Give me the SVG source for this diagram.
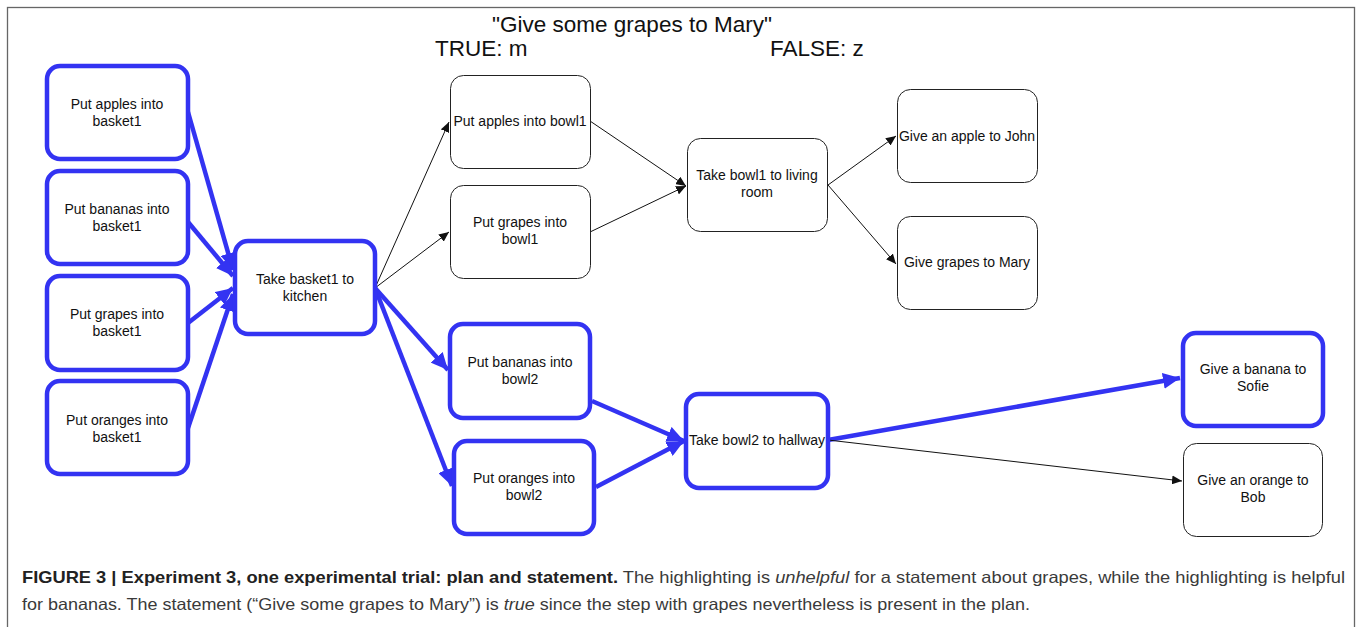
<svg xmlns="http://www.w3.org/2000/svg" width="1360" height="627" viewBox="0 0 1360 627">
<style>
.hb{fill:#fff;stroke:#3333f2;stroke-width:4.5}
.nb{fill:#fff;stroke:#222;stroke-width:1}
.lbl{font-family:"Liberation Sans",Arial,sans-serif;font-size:14px;fill:#111;text-anchor:middle}
.hl{stroke:#3333f2;stroke-width:4.5;fill:none}
.nl{stroke:#111;stroke-width:1;fill:none}
.big{font-family:"Liberation Sans",Arial,sans-serif;font-size:22.5px;fill:#111}
.cap{font-family:"Liberation Sans",Arial,sans-serif;font-size:16.5px;fill:#3a3a3a}
</style>
<defs>
<marker id="ab" markerUnits="userSpaceOnUse" markerWidth="18" markerHeight="16" refX="17" refY="8" orient="auto" viewBox="0 0 18 16"><path d="M0,0 L17,8 L0,16 z" fill="#3333f2"/></marker>
<marker id="an" markerUnits="userSpaceOnUse" markerWidth="11" markerHeight="9" refX="10" refY="4.5" orient="auto" viewBox="0 0 11 9"><path d="M0,0 L10,4.5 L0,9 z" fill="#111"/></marker>
</defs>
<rect x="0" y="0" width="1360" height="627" fill="#fff"/>
<rect x="7.5" y="7.5" width="1347" height="640" fill="none" stroke="#666" stroke-width="1.3"/>

<g id="title">
<text class="big" x="632" y="32" text-anchor="middle">"Give some grapes to Mary"</text>
<text class="big" x="435" y="56">TRUE: m</text>
<text class="big" x="770" y="56">FALSE: z</text>
</g>

<g id="connectors">
<line class="hl" x1="188" y1="112" x2="233" y2="270" marker-end="url(#ab)"/>
<line class="hl" x1="188" y1="222" x2="233" y2="276" marker-end="url(#ab)"/>
<line class="hl" x1="188" y1="323" x2="233" y2="288" marker-end="url(#ab)"/>
<line class="hl" x1="188" y1="428" x2="233" y2="294" marker-end="url(#ab)"/>
<line class="nl" x1="375" y1="288" x2="449" y2="122" marker-end="url(#an)"/>
<line class="nl" x1="375" y1="288" x2="449" y2="232" marker-end="url(#an)"/>
<line class="hl" x1="375" y1="288" x2="448" y2="370" marker-end="url(#ab)"/>
<line class="hl" x1="375" y1="288" x2="452" y2="486" marker-end="url(#ab)"/>
<line class="nl" x1="590" y1="121" x2="686" y2="186" marker-end="url(#an)"/>
<line class="nl" x1="590" y1="232" x2="686" y2="186" marker-end="url(#an)"/>
<line class="nl" x1="828" y1="185" x2="896" y2="136" marker-end="url(#an)"/>
<line class="nl" x1="828" y1="185" x2="896" y2="264" marker-end="url(#an)"/>
<line class="hl" x1="592" y1="401" x2="684" y2="441" marker-end="url(#ab)"/>
<line class="hl" x1="596" y1="487" x2="684" y2="441" marker-end="url(#ab)"/>
<line class="hl" x1="828" y1="440" x2="1180" y2="378" marker-end="url(#ab)"/>
<line class="nl" x1="828" y1="440" x2="1182" y2="481" marker-end="url(#an)"/>
</g>

<g id="n-apples-basket1"><rect class="hb" x="47" y="66" width="141" height="93" rx="13"/><text class="lbl" x="117" y="109">Put apples into</text><text class="lbl" x="117" y="126">basket1</text></g>
<g id="n-bananas-basket1"><rect class="hb" x="47" y="171" width="141" height="93" rx="13"/><text class="lbl" x="117" y="214">Put bananas into</text><text class="lbl" x="117" y="231">basket1</text></g>
<g id="n-grapes-basket1"><rect class="hb" x="47" y="276" width="141" height="94" rx="13"/><text class="lbl" x="117" y="319">Put grapes into</text><text class="lbl" x="117" y="336">basket1</text></g>
<g id="n-oranges-basket1"><rect class="hb" x="47" y="381" width="141" height="93" rx="13"/><text class="lbl" x="117" y="425">Put oranges into</text><text class="lbl" x="117" y="442">basket1</text></g>
<g id="n-kitchen"><rect class="hb" x="235" y="241" width="140" height="93" rx="13"/><text class="lbl" x="305" y="284">Take basket1 to</text><text class="lbl" x="305" y="301">kitchen</text></g>

<g id="n-apples-bowl1"><rect class="nb" x="450.5" y="75.5" width="140" height="93" rx="13"/><text class="lbl" x="520" y="126">Put apples into bowl1</text></g>
<g id="n-grapes-bowl1"><rect class="nb" x="450.5" y="185.5" width="140" height="93" rx="13"/><text class="lbl" x="520" y="227">Put grapes into</text><text class="lbl" x="520" y="244">bowl1</text></g>
<g id="n-bananas-bowl2"><rect class="hb" x="450" y="324" width="140" height="94" rx="13"/><text class="lbl" x="520" y="367">Put bananas into</text><text class="lbl" x="520" y="384">bowl2</text></g>
<g id="n-oranges-bowl2"><rect class="hb" x="454" y="441" width="140" height="93" rx="13"/><text class="lbl" x="524" y="483">Put oranges into</text><text class="lbl" x="524" y="500">bowl2</text></g>

<g id="n-living-room"><rect class="nb" x="687.5" y="138.5" width="140" height="93" rx="13"/><text class="lbl" x="757" y="180">Take bowl1 to living</text><text class="lbl" x="757" y="197">room</text></g>
<g id="n-hallway"><rect class="hb" x="686" y="394" width="142" height="94" rx="13"/><text class="lbl" x="757" y="445">Take bowl2 to hallway</text></g>

<g id="n-john"><rect class="nb" x="897.5" y="89.5" width="140" height="93" rx="13"/><text class="lbl" x="967" y="141">Give an apple to John</text></g>
<g id="n-mary"><rect class="nb" x="897.5" y="216.5" width="140" height="93" rx="13"/><text class="lbl" x="967" y="267">Give grapes to Mary</text></g>
<g id="n-sofie"><rect class="hb" x="1183" y="333" width="140" height="93" rx="13"/><text class="lbl" x="1253" y="374">Give a banana to</text><text class="lbl" x="1253" y="391">Sofie</text></g>
<g id="n-bob"><rect class="nb" x="1183.5" y="443.5" width="139" height="93" rx="13"/><text class="lbl" x="1253" y="485">Give an orange to</text><text class="lbl" x="1253" y="502">Bob</text></g>

<g id="caption">
<text class="cap" x="22" y="583" textLength="1323" lengthAdjust="spacingAndGlyphs"><tspan font-weight="bold" fill="#222">FIGURE 3 | Experiment 3, one experimental trial: plan and statement.</tspan> The highlighting is <tspan font-style="italic">unhelpful</tspan> for a statement about grapes, while the highlighting is helpful</text>
<text class="cap" x="22" y="610" textLength="1008" lengthAdjust="spacingAndGlyphs">for bananas. The statement (“Give some grapes to Mary”) is <tspan font-style="italic">true</tspan> since the step with grapes nevertheless is present in the plan.</text>
</g>
</svg>
